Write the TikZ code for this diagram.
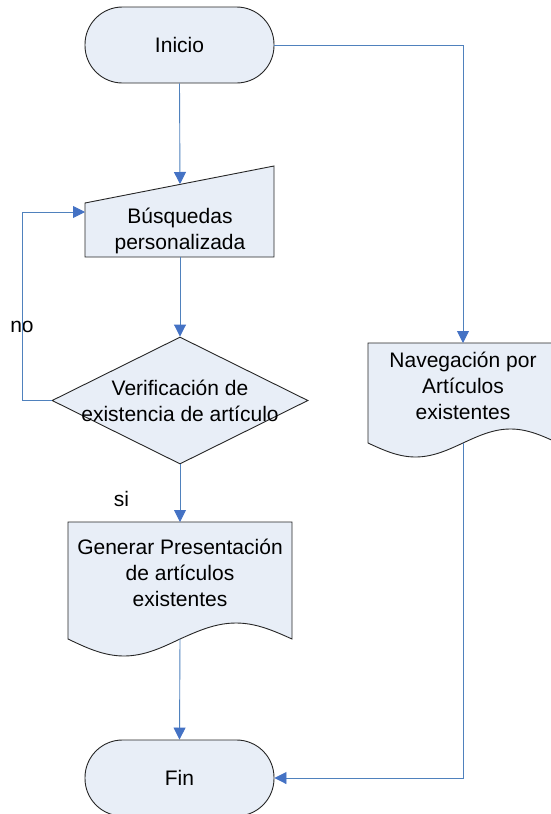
\documentclass[tikz,border=0pt]{standalone}
\usepackage{fontspec}
\setmainfont{Liberation Sans}
\usepackage{xcolor}
\usetikzlibrary{arrows.meta,shapes.geometric}
\definecolor{boxfill}{RGB}{232,238,247}
\definecolor{flowline}{RGB}{79,129,189}
\definecolor{flowtip}{RGB}{68,114,196}

\begin{document}
\begin{tikzpicture}[x=1pt,y=-1pt,
  font=\fontsize{21}{26}\selectfont,
  shapeline/.style={draw=black!85, line width=0.9pt, fill=boxfill},
  terminal/.style={shapeline, rectangle, rounded corners=37.5pt, minimum width=189pt, minimum height=76pt},
  decision/.style={shapeline, diamond, minimum width=256pt, minimum height=127pt, inner sep=0pt},
  flow/.style={draw=flowline, line width=0.9pt, -{Triangle[length=12pt,width=12pt,color=flowtip]}}]
\useasboundingbox (0,0) rectangle (550,814);

% shapes %
\path[shapeline] (85,203) -- (274,166) -- (274,257) -- (85,257) -- cycle;
\path[shapeline] (68,522) -- (292,522) -- (292,639) sin (236,623) cos (180,639) sin (124,656) cos (68,639) -- cycle;
\path[shapeline] (368,343) -- (558,343) -- (558,443) sin (510.5,429) cos (463,443) sin (415.5,457) cos (368,443) -- cycle;

% nodes %
\node[terminal] (inicio) at (179.5,45) {Inicio};
\node[align=center] (busq) at (180,231) {Búsquedas\\personalizada};
\node[decision, label={[align=center]center:Verificación de\\existencia de artículo}] (verif) at (180,400.5) {};
\node[align=center] (gen) at (180,573) {Generar Presentación\\de artículos\\existentes};
\node[align=center] (nav) at (463,386) {Navegación por\\Artículos\\existentes};
\node[terminal] (fin) at (179.5,778) {Fin};
\node (no) at (22,327) {no};
\node (si) at (121.5,499) {si};

\coordinate (busqtop) at (180,184);
\coordinate (busqin) at (85,212);
\coordinate (busqout) at (180,257);
\coordinate (gentop) at (180,522);
\coordinate (genout) at (180,639);
\coordinate (navtop) at (463,343);
\coordinate (navout) at (463,443);

% edges %
\draw[flow] (inicio.south) -- (busqtop);
\draw[flow] (busqout) -- (verif.north);
\draw[flow] (verif.west) -- ++(-29,0) |- (busqin);
\draw[flow] (verif.south) -- (gentop);
\draw[flow] (genout) -- (fin.north);
\draw[flow] (inicio.east) -| (navtop);
\draw[flow] (navout) |- (fin.east);
\end{tikzpicture}
\end{document}
